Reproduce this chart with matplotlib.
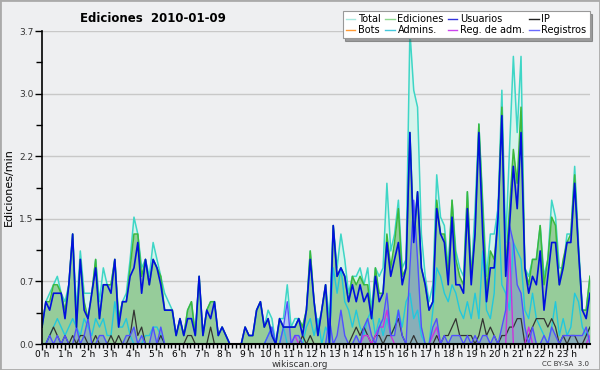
import numpy as np
import matplotlib
matplotlib.use("Agg")
import matplotlib.pyplot as plt
from matplotlib.lines import Line2D

# ediciones por minuto, intervalos de 10 minutos (144 puntos, 0h - 24h)
total = [
    0.2, 0.5, 0.6, 0.7, 0.8, 0.6,   0.5, 0.7, 1.3, 0.4, 1.1, 0.6,
    0.6, 0.6, 1.0, 0.5, 0.9, 0.7,   0.7, 1.0, 0.3, 0.5, 0.6, 1.0,
    1.5, 1.3, 0.9, 1.0, 0.8, 1.2,   1.0, 0.8, 0.6, 0.5, 0.4, 0.1,
    0.3, 0.1, 0.4, 0.5, 0.1, 0.8,   0.1, 0.4, 0.5, 0.5, 0.1, 0.2,
    0.1, 0.0, 0.0, 0.0, 0.0, 0.2,   0.1, 0.1, 0.4, 0.5, 0.2, 0.4,
    0.3, 0.0, 0.3, 0.3, 0.7, 0.2,   0.3, 0.3, 0.2, 0.4, 1.1, 0.5,
    0.2, 0.4, 0.7, 0.3, 1.4, 0.9,   1.3, 1.0, 0.6, 0.8, 0.8, 0.9,
    0.7, 0.9, 0.4, 0.9, 0.8, 0.9,   1.9, 1.1, 1.3, 1.7, 0.9, 1.0,
    3.7, 3.0, 2.8, 1.3, 0.8, 0.5,   0.7, 2.0, 1.5, 1.4, 0.9, 1.7,
    1.1, 0.9, 0.8, 1.8, 0.8, 1.6,   2.6, 1.7, 0.8, 1.3, 1.3, 1.6,
    3.0, 1.2, 2.3, 3.4, 2.5, 3.4,   0.9, 0.8, 1.0, 1.0, 1.4, 0.8,
    1.0, 1.7, 1.5, 0.9, 0.9, 1.3,   1.3, 2.1, 1.2, 0.4, 0.4, 0.8,
]
ediciones = [
    0.2, 0.5, 0.5, 0.7, 0.7, 0.6,   0.4, 0.7, 1.3, 0.2, 1.0, 0.5,
    0.3, 0.6, 1.0, 0.3, 0.7, 0.7,   0.7, 1.0, 0.3, 0.5, 0.5, 0.9,
    1.3, 1.3, 0.8, 1.0, 0.7, 1.0,   0.9, 0.8, 0.4, 0.4, 0.4, 0.1,
    0.3, 0.1, 0.4, 0.5, 0.1, 0.8,   0.1, 0.4, 0.5, 0.5, 0.1, 0.2,
    0.1, 0.0, 0.0, 0.0, 0.0, 0.2,   0.1, 0.1, 0.4, 0.5, 0.2, 0.3,
    0.1, 0.0, 0.3, 0.2, 0.2, 0.2,   0.2, 0.3, 0.2, 0.4, 1.1, 0.5,
    0.1, 0.4, 0.7, 0.0, 1.4, 0.8,   0.9, 0.8, 0.5, 0.8, 0.7, 0.8,
    0.7, 0.7, 0.3, 0.9, 0.6, 0.6,   1.3, 0.9, 1.2, 1.6, 0.8, 0.9,
    2.5, 1.3, 1.8, 0.9, 0.7, 0.4,   0.5, 1.7, 1.3, 1.3, 0.8, 1.7,
    1.0, 0.8, 0.7, 1.8, 0.8, 1.3,   2.6, 1.6, 0.6, 1.1, 1.0, 1.5,
    2.8, 0.9, 1.6, 2.3, 1.9, 2.8,   0.9, 0.7, 1.0, 1.0, 1.4, 0.7,
    1.0, 1.5, 1.4, 0.7, 1.0, 1.2,   1.3, 2.0, 1.1, 0.4, 0.4, 0.8,
]
usuarios = [
    0.2, 0.5, 0.4, 0.6, 0.6, 0.6,   0.3, 0.7, 1.3, 0.2, 1.0, 0.4,
    0.3, 0.6, 0.9, 0.3, 0.7, 0.7,   0.6, 1.0, 0.2, 0.5, 0.5, 0.8,
    0.9, 1.2, 0.6, 1.0, 0.7, 1.0,   0.9, 0.7, 0.4, 0.4, 0.4, 0.1,
    0.3, 0.1, 0.3, 0.3, 0.1, 0.8,   0.1, 0.4, 0.3, 0.5, 0.1, 0.2,
    0.1, 0.0, 0.0, 0.0, 0.0, 0.2,   0.1, 0.1, 0.4, 0.5, 0.2, 0.3,
    0.1, 0.0, 0.3, 0.2, 0.2, 0.2,   0.2, 0.3, 0.1, 0.4, 1.0, 0.5,
    0.1, 0.4, 0.7, 0.0, 1.4, 0.8,   0.9, 0.8, 0.5, 0.7, 0.5, 0.7,
    0.5, 0.6, 0.3, 0.8, 0.5, 0.6,   1.2, 0.8, 1.0, 1.2, 0.7, 0.9,
    2.5, 1.2, 1.8, 0.9, 0.7, 0.4,   0.5, 1.6, 1.3, 1.2, 0.7, 1.5,
    0.7, 0.7, 0.6, 1.6, 0.7, 1.3,   2.5, 1.3, 0.5, 0.9, 0.9, 1.5,
    2.7, 0.8, 1.4, 2.1, 1.6, 2.5,   0.9, 0.6, 0.8, 0.7, 1.1, 0.4,
    0.8, 1.2, 1.2, 0.7, 0.9, 1.2,   1.2, 1.9, 1.1, 0.4, 0.3, 0.6,
]
ip = [
    0.0, 0.0, 0.1, 0.2, 0.1, 0.0,   0.1, 0.0, 0.1, 0.0, 0.1, 0.1,
    0.0, 0.0, 0.1, 0.0, 0.0, 0.0,   0.1, 0.0, 0.1, 0.0, 0.0, 0.1,
    0.4, 0.1, 0.2, 0.0, 0.0, 0.0,   0.0, 0.1, 0.0, 0.0, 0.0, 0.0,
    0.0, 0.0, 0.1, 0.1, 0.0, 0.0,   0.0, 0.0, 0.2, 0.0, 0.0, 0.0,
    0.0, 0.0, 0.0, 0.0, 0.0, 0.0,   0.0, 0.0, 0.0, 0.0, 0.0, 0.0,
    0.0, 0.0, 0.0, 0.0, 0.0, 0.0,   0.0, 0.0, 0.1, 0.0, 0.1, 0.0,
    0.0, 0.0, 0.0, 0.0, 0.0, 0.0,   0.0, 0.0, 0.0, 0.1, 0.2, 0.1,
    0.2, 0.1, 0.0, 0.1, 0.1, 0.0,   0.1, 0.1, 0.2, 0.3, 0.1, 0.0,
    0.0, 0.1, 0.0, 0.0, 0.0, 0.0,   0.0, 0.1, 0.0, 0.1, 0.1, 0.2,
    0.3, 0.1, 0.1, 0.1, 0.1, 0.0,   0.1, 0.3, 0.1, 0.2, 0.1, 0.0,
    0.1, 0.1, 0.2, 0.2, 0.3, 0.3,   0.0, 0.1, 0.2, 0.3, 0.3, 0.3,
    0.2, 0.3, 0.2, 0.0, 0.1, 0.0,   0.1, 0.1, 0.0, 0.0, 0.1, 0.2,
]
bots = [0.0] * 144
admins = [
    0.0, 0.0, 0.1, 0.2, 0.3, 0.2,   0.1, 0.2, 0.3, 0.2, 0.1, 0.3,
    0.2, 0.1, 0.3, 0.2, 0.3, 0.1,   0.1, 0.5, 0.2, 0.2, 0.3, 0.1,
    0.0, 0.0, 0.0, 0.1, 0.1, 0.2,   0.2, 0.1, 0.0, 0.0, 0.0, 0.0,
    0.0, 0.0, 0.0, 0.0, 0.0, 0.0,   0.0, 0.0, 0.0, 0.0, 0.0, 0.0,
    0.0, 0.0, 0.0, 0.0, 0.0, 0.0,   0.0, 0.0, 0.0, 0.0, 0.0, 0.1,
    0.2, 0.0, 0.0, 0.2, 0.0, 0.0,   0.0, 0.0, 0.0, 0.2, 0.3, 0.1,
    0.3, 0.0, 0.2, 0.1, 0.9, 0.6,   0.9, 0.5, 0.4, 0.2, 0.4, 0.2,
    0.1, 0.3, 0.4, 0.1, 0.3, 0.1,   0.3, 0.1, 0.2, 0.4, 0.2, 0.5,
    0.6, 0.3, 0.4, 0.1, 0.0, 0.0,   0.4, 0.9, 0.8, 0.6, 0.5, 0.7,
    0.6, 0.4, 0.3, 0.5, 0.3, 0.6,   0.3, 1.1, 0.4, 0.3, 0.6, 1.7,
    0.7, 0.6, 0.4, 1.2, 1.1, 1.0,   0.4, 0.3, 0.6, 0.3, 0.2, 0.1,
    0.0, 0.2, 0.5, 0.1, 0.3, 0.1,   0.2, 0.6, 0.5, 0.2, 0.1, 0.2,
]
reg_adm = [
    0.0, 0.0, 0.0, 0.0, 0.0, 0.0,   0.0, 0.0, 0.0, 0.0, 0.0, 0.0,
    0.0, 0.0, 0.0, 0.0, 0.0, 0.0,   0.0, 0.0, 0.0, 0.0, 0.0, 0.0,
    0.0, 0.0, 0.0, 0.0, 0.0, 0.0,   0.0, 0.0, 0.0, 0.0, 0.0, 0.0,
    0.0, 0.0, 0.0, 0.0, 0.0, 0.0,   0.0, 0.0, 0.0, 0.0, 0.0, 0.0,
    0.0, 0.0, 0.0, 0.0, 0.0, 0.0,   0.0, 0.0, 0.0, 0.0, 0.0, 0.0,
    0.0, 0.0, 0.0, 0.0, 0.0, 0.0,   0.1, 0.0, 0.0, 0.0, 0.0, 0.0,
    0.0, 0.0, 0.0, 0.0, 0.0, 0.0,   0.0, 0.0, 0.0, 0.0, 0.0, 0.0,
    0.1, 0.1, 0.0, 0.1, 0.2, 0.2,   0.4, 0.1, 0.0, 0.0, 0.0, 0.0,
    0.0, 0.0, 0.0, 0.0, 0.0, 0.0,   0.1, 0.2, 0.0, 0.0, 0.0, 0.0,
    0.0, 0.0, 0.0, 0.0, 0.0, 0.0,   0.0, 0.0, 0.0, 0.0, 0.0, 0.0,
    0.0, 0.0, 1.2, 0.0, 0.0, 0.0,   0.0, 0.2, 0.0, 0.0, 0.0, 0.0,
    0.0, 0.0, 0.0, 0.0, 0.0, 0.0,   0.0, 0.0, 0.0, 0.0, 0.0, 0.1,
]
registros = [
    0.0, 0.0, 0.1, 0.0, 0.1, 0.0,   0.1, 0.0, 0.0, 0.2, 0.0, 0.1,
    0.3, 0.0, 0.0, 0.1, 0.1, 0.0,   0.0, 0.0, 0.0, 0.0, 0.1, 0.1,
    0.2, 0.0, 0.1, 0.0, 0.0, 0.2,   0.0, 0.2, 0.0, 0.0, 0.0, 0.0,
    0.0, 0.0, 0.0, 0.0, 0.0, 0.0,   0.0, 0.0, 0.0, 0.0, 0.0, 0.0,
    0.0, 0.0, 0.0, 0.0, 0.0, 0.0,   0.0, 0.0, 0.0, 0.0, 0.0, 0.1,
    0.2, 0.0, 0.0, 0.2, 0.5, 0.0,   0.1, 0.1, 0.0, 0.0, 0.0, 0.0,
    0.0, 0.0, 0.0, 0.3, 0.0, 0.1,   0.4, 0.1, 0.0, 0.0, 0.1, 0.0,
    0.2, 0.3, 0.1, 0.0, 0.2, 0.3,   0.6, 0.1, 0.1, 0.4, 0.1, 0.0,
    0.9, 1.7, 1.0, 0.2, 0.0, 0.0,   0.2, 0.3, 0.0, 0.1, 0.0, 0.1,
    0.1, 0.1, 0.0, 0.1, 0.0, 0.1,   0.0, 0.1, 0.1, 0.0, 0.1, 0.0,
    0.2, 0.4, 1.4, 1.2, 0.7, 0.6,   0.2, 0.0, 0.2, 0.0, 0.0, 0.1,
    0.0, 0.2, 0.1, 0.0, 0.1, 0.1,   0.1, 0.1, 0.1, 0.1, 0.2, 0.0,
]

hours = np.linspace(0, 24, len(total))
ymax = 3.7

BG = '#eeeff1'
fig = plt.figure(figsize=(6, 3.7), dpi=100, facecolor=BG)
ax = fig.add_axes([42/600, 1 - 344/370, 548/600, 313/370])
ax.set_facecolor(BG)

# areas
ax.fill_between(hours, total, color='#d6f3ec', lw=0)
ax.fill_between(hours, ediciones, color='#96cc9a', lw=0)
ax.fill_between(hours, registros, color='#6a6aff', alpha=0.3, lw=0)

# lines
ax.plot(hours, total, color='#3ed6c6', lw=1.1)
ax.plot(hours, ediciones, color='#3cb83c', lw=1.1)
ax.plot(hours, bots, color='#ff9933', lw=1)
ax.plot(hours, admins, color='#22c8dc', lw=1)
ax.plot(hours, ip, color='#333333', lw=0.9)
ax.plot(hours, reg_adm, color='#cc33dd', lw=1)
ax.plot(hours, registros, color='#5050ff', lw=1)
ax.plot(hours, usuarios, color='#0010dd', lw=1.2)

ax.set_xlim(0, 24)
ax.set_ylim(0, ymax)

yt = np.linspace(0, ymax, 6)
ax.set_yticks(yt)
ax.set_yticklabels([f"{v:.1f}" for v in yt], fontsize=6.5, color='#333333')
ax.set_yticks(yt[:-1] + ymax / 10, minor=True)
for v in yt[1:]:
    ax.axhline(v, color='#c8c8c8', lw=1, zorder=0)

ax.set_xticks(range(24))
ax.set_xticklabels([f"{h} h" for h in range(24)], fontsize=6.5)
ax.set_xticks(np.arange(0, 24, 1/6), minor=True)
ax.tick_params(axis='x', which='major', length=4, width=1, pad=0.5)
ax.tick_params(axis='x', which='minor', length=3, width=1)
ax.tick_params(axis='y', which='major', length=5, width=1, pad=1)
ax.tick_params(axis='y', which='minor', length=4, width=1)

for s in ['top', 'right']:
    ax.spines[s].set_visible(False)
ax.spines['left'].set_linewidth(1.2)
ax.spines['bottom'].set_linewidth(1.5)

ax.set_ylabel("Ediciones/min", fontsize=8, labelpad=4)

fig.text(0.255, 0.951, "Ediciones  2010-01-09", ha='center', va='center',
         fontsize=8.5, fontweight='bold')
fig.text(0.5, 0.015, "wikiscan.org", ha='center', va='center', fontsize=6.5, color='#333333')
fig.text(0.982, 0.015, "CC BY-SA  3.0", ha='right', va='center', fontsize=5, color='#333333')

# legend (column order for 2 rows x 4 cols)
names = ['Total', 'Bots', 'Ediciones', 'Admins.', 'Usuarios', 'Reg. de adm.', 'IP', 'Registros']
colors = ['#a8e8df', '#ff9933', '#8ed88e', '#44c8dc', '#3333dd', '#cc44ee', '#222222', '#6a6aff']
handles = [Line2D([0], [0], color=c, lw=1) for c in colors]
leg = fig.legend(handles, names, ncol=4, loc='upper left', bbox_to_anchor=(0.571, 0.97),
                 fontsize=7, handlelength=1.0, handletextpad=0.3, columnspacing=0.4,
                 labelspacing=0.15, borderpad=0.3, borderaxespad=0, fancybox=False,
                 shadow=True, framealpha=1, edgecolor='#999999')
leg.get_frame().set_linewidth(0.8)

fig.patches.append(plt.Rectangle((0, 0), 1, 1, transform=fig.transFigure, fill=False,
                                 edgecolor='#aaaaaa', lw=2))

fig.savefig("out.png", dpi=100, facecolor=BG)
